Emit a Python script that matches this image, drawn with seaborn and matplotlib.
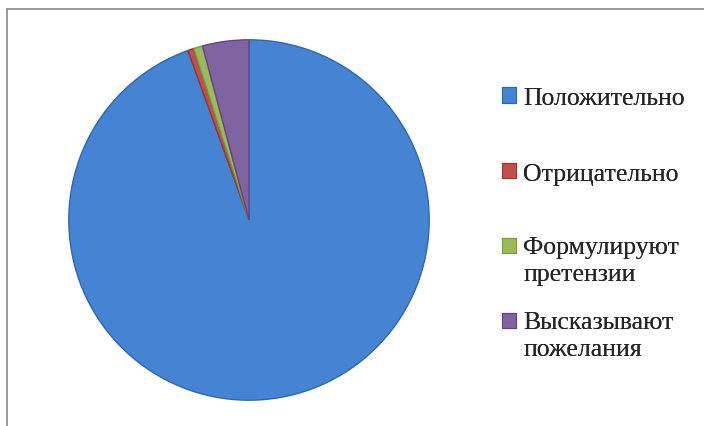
import seaborn as sns
import matplotlib.pyplot as plt
from matplotlib.patches import Patch
from matplotlib.lines import Line2D

# Data
labels = ["Положительно", "Отрицательно", "Формулируют\nпретензии", "Высказывают\nпожелания"]
values = [94.5, 0.55, 0.8, 4.15]
colors = ["#4584D3", "#C0504D", "#9BBB59", "#8064A2"]
edges = ["#3166AE", "#9A3532", "#7C9A3D", "#5F4582"]

sns.set_theme(style="white")
plt.rcParams['font.family'] = ['Liberation Serif', 'DejaVu Serif']

fig = plt.figure(figsize=(7.04, 4.27), dpi=100)
# pie: centre about (249, 221) px, radius about 182 px
ax = fig.add_axes([67 / 704, 1 - 403 / 427, 364 / 704, 364 / 427])

wedges, _ = ax.pie(values, colors=colors, startangle=90, counterclock=False,
                   wedgeprops=dict(linewidth=1.0))
for w, ec in zip(wedges, edges):
    w.set_edgecolor(ec)
ax.set_xlim(-1.01, 1.01)
ax.set_ylim(-1.01, 1.01)
ax.set_aspect("equal")
ax.axis("off")

# Legend, one block per entry like in the Excel chart
legend_y = [0.794, 0.617, 0.445, 0.269]
for lab, col, ec, y in zip(labels, colors, edges, legend_y):
    handle = Patch(facecolor=col, edgecolor=ec, linewidth=0.8)
    leg = fig.legend([handle], [lab], loc="upper left", bbox_to_anchor=(0.713, y),
                     frameon=False, fontsize=18.5, handlelength=0.55, handleheight=0.55,
                     handletextpad=0.28, borderpad=0, borderaxespad=0)
    for t in leg.get_texts():
        t.set_linespacing(1.3)
    if "\n" in lab:
        # keep the marker next to the first line
        for h in leg.legend_handles:
            h.set_y(h.get_y() + 10.5)
    fig.add_artist(leg)

# Chart border (only top and left edges are visible in the crop)
fig.add_artist(Line2D([7.5 / 704, 7.5 / 704], [0, 1 - 9.5 / 427],
                      transform=fig.transFigure, color="#898989", linewidth=1.2))
fig.add_artist(Line2D([7.5 / 704, 1], [1 - 9.5 / 427, 1 - 9.5 / 427],
                      transform=fig.transFigure, color="#898989", linewidth=1.2))

fig.savefig("out.png", dpi=100)
